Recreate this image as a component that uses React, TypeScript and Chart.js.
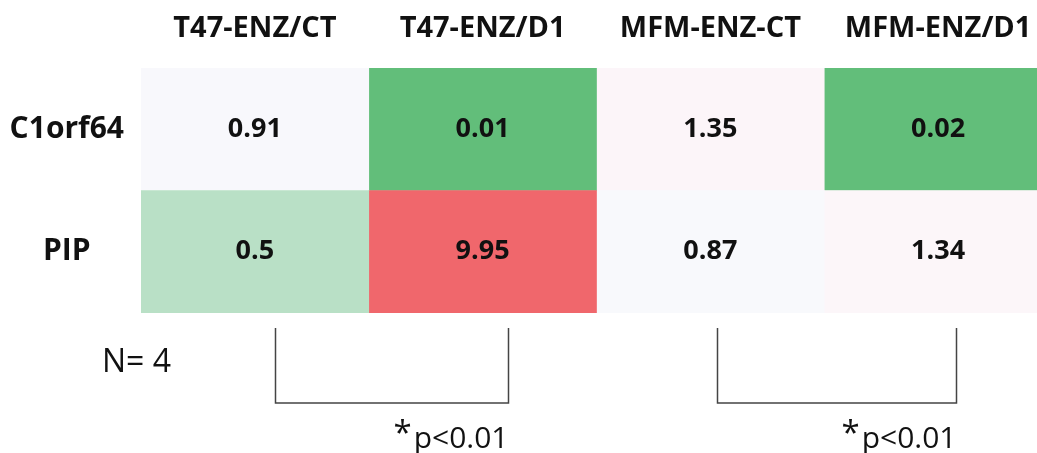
import React, { useEffect, useRef } from 'react';
import { Chart, registerables } from 'chart.js';

Chart.register(...registerables);

// ---- data ----
const COLUMNS = ['T47-ENZ/CT', 'T47-ENZ/D1', 'MFM-ENZ-CT', 'MFM-ENZ/D1'];
const ROWS = ['C1orf64', 'PIP'];
const C1ORF64_VALUES = [0.91, 0.01, 1.35, 0.02];
const PIP_VALUES = [0.5, 9.95, 0.87, 1.34];
const VALUE_TEXT = [
  ['0.91', '0.01', '1.35', '0.02'],
  ['0.5', '9.95', '0.87', '1.34'],
];
const SAMPLE_NOTE = 'N= 4';
const SIG_LABEL = 'p<0.01';
const SIG_MARK = '*';
// bracket spans in column units (x scale)
const BRACKET_FROM = [0.59, 2.53];
const BRACKET_TO = [1.61, 3.58];

// ---- styles ----
const C1ORF64_COLORS = ['#f8f8fc', '#62be7a', '#fcf5f9', '#62be7a'];
const PIP_COLORS = ['#b9e0c6', '#f0676c', '#f8f9fc', '#fcf6f9'];
const ROW_COLORS = [C1ORF64_COLORS, PIP_COLORS];
const ROW_VALUES = [C1ORF64_VALUES, PIP_VALUES];
const FONT = "'Open Sans', 'Noto Sans', sans-serif";

export default function App() {
  const ref = useRef<HTMLCanvasElement | null>(null);

  useEffect(() => {
    if (!ref.current) return;

    const datasets = COLUMNS.map((col, j) => ({
      label: col,
      data: ROWS.map((_, i) => (ROW_VALUES[i][j] !== undefined ? [j, j + 1] : null)),
      backgroundColor: ROWS.map((_, i) => ROW_COLORS[i][j]),
      borderWidth: 0,
      borderSkipped: false,
      grouped: false,
      categoryPercentage: 1,
      barPercentage: 1,
    }));

    const labelsPlugin = {
      id: 'cellLabels',
      afterDatasetsDraw(chart: any) {
        const { ctx } = chart;
        const xs = chart.scales.x;
        const ys = chart.scales.y;
        ctx.save();
        ctx.font = `bold 27px ${FONT}`;
        ctx.fillStyle = '#111';
        ctx.textAlign = 'center';
        ctx.textBaseline = 'middle';
        ROWS.forEach((_, i) => {
          COLUMNS.forEach((__, j) => {
            const x = xs.getPixelForValue(j + 0.5);
            const y = ys.getPixelForValue(i);
            ctx.fillText(VALUE_TEXT[i][j], x, y);
          });
        });
        ctx.restore();
      },
    };

    const notesPlugin = {
      id: 'notes',
      afterDraw(chart: any) {
        const { ctx, chartArea } = chart;
        const xs = chart.scales.x;
        const bottom = chartArea.bottom;
        ctx.save();
        // N note
        ctx.font = `32px ${FONT}`;
        ctx.fillStyle = '#111';
        ctx.textAlign = 'left';
        ctx.textBaseline = 'alphabetic';
        ctx.fillText(SAMPLE_NOTE, chartArea.left - 39, bottom + 59);

        // brackets
        ctx.strokeStyle = '#444';
        ctx.lineWidth = 1.5;
        BRACKET_FROM.forEach((from, k) => {
          const x1 = Math.round(xs.getPixelForValue(from)) + 0.5;
          const x2 = Math.round(xs.getPixelForValue(BRACKET_TO[k])) + 0.5;
          const top = bottom + 15;
          const base = bottom + 90;
          ctx.beginPath();
          ctx.moveTo(x1, top);
          ctx.lineTo(x1, base);
          ctx.lineTo(x2, base);
          ctx.lineTo(x2, top);
          ctx.stroke();

          ctx.font = `30px ${FONT}`;
          ctx.textAlign = 'right';
          ctx.fillText(SIG_LABEL, x2, bottom + 135);
          const w = ctx.measureText(SIG_LABEL).width;
          ctx.font = `33px ${FONT}`;
          ctx.fillText(SIG_MARK, x2 - w - 2, bottom + 131);
        });
        ctx.restore();
      },
    };

    const chart = new Chart(ref.current, {
      type: 'bar',
      data: { labels: ROWS, datasets: datasets as any },
      options: {
        animation: false,
        responsive: false,
        devicePixelRatio: 1,
        indexAxis: 'y',
        layout: { padding: { top: 0, left: 0, right: 8, bottom: 140 } },
        plugins: { legend: { display: false }, tooltip: { enabled: false } },
        scales: {
          x: { type: 'linear', min: 0, max: 4, display: false },
          xTop: {
            type: 'category',
            axis: 'x',
            labels: COLUMNS,
            position: 'top',
            offset: true,
            grid: { display: false, drawTicks: false },
            border: { display: false },
            ticks: {
              font: { family: FONT, size: 29, weight: 'bold' },
              color: '#111',
              padding: 22,
              maxRotation: 0,
              autoSkip: false,
            },
            afterFit: (s: any) => {
              s.height = 68;
            },
          } as any,
          y: {
            type: 'category',
            offset: true,
            grid: { display: false, drawTicks: false },
            border: { display: false },
            ticks: {
              font: { family: FONT, size: 30, weight: 'bold' },
              color: '#111',
              padding: 17,
              crossAlign: 'center',
            },
            afterFit: (s: any) => {
              s.width = 141;
            },
          } as any,
        },
      },
      plugins: [labelsPlugin, notesPlugin],
    });

    return () => chart.destroy();
  }, []);

  return (
    <div
      style={{
        position: 'fixed',
        left: 0,
        top: 0,
        width: 1037,
        height: 453,
        overflow: 'hidden',
        background: '#fff',
      }}
    >
      <canvas ref={ref} width={1060} height={453} style={{ display: 'block' }} />
    </div>
  );
}
